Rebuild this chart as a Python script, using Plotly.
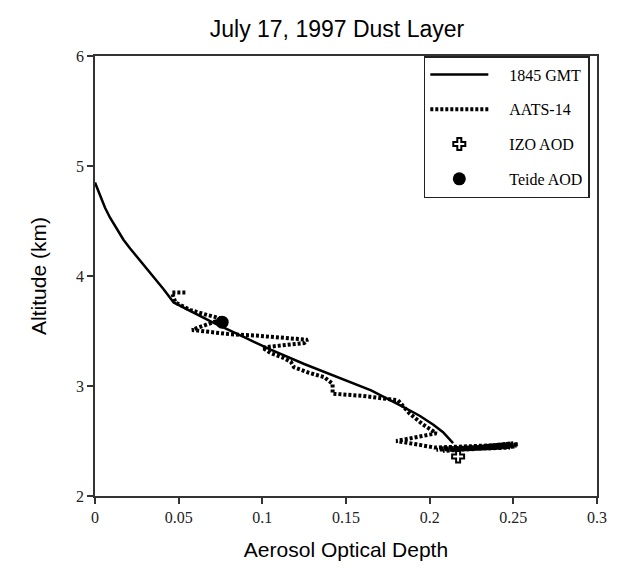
import plotly.graph_objects as go

# 1845 GMT modeled profile
gmt_x = [0.0, 0.003, 0.006, 0.009, 0.013, 0.017, 0.021, 0.026, 0.031, 0.036, 0.041, 0.047,
         0.070, 0.091, 0.105, 0.125, 0.145, 0.165, 0.183, 0.194, 0.202, 0.208, 0.214]
gmt_y = [4.85, 4.73, 4.62, 4.53, 4.43, 4.33, 4.25, 4.16, 4.07, 3.98, 3.88, 3.76,
         3.58, 3.43, 3.33, 3.20, 3.08, 2.96, 2.82, 2.73, 2.65, 2.58, 2.48]

# AATS-14 profile
aats_x = [0.054, 0.046, 0.048, 0.057, 0.066, 0.076, 0.058, 0.070, 0.081, 0.095, 0.110, 0.127,
          0.125, 0.112, 0.100, 0.105, 0.112, 0.117, 0.119, 0.128, 0.137, 0.142, 0.142, 0.160,
          0.181, 0.188, 0.196, 0.204, 0.180, 0.192, 0.203, 0.253, 0.204, 0.252, 0.206, 0.251,
          0.208, 0.250, 0.212, 0.248]
aats_y = [3.85, 3.85, 3.76, 3.69, 3.65, 3.61, 3.51, 3.49, 3.47, 3.46, 3.44, 3.42,
          3.39, 3.37, 3.35, 3.30, 3.26, 3.22, 3.17, 3.12, 3.08, 3.02, 2.93, 2.91,
          2.87, 2.75, 2.65, 2.57, 2.50, 2.47, 2.44, 2.47, 2.42, 2.46, 2.43, 2.45,
          2.41, 2.48, 2.42, 2.44]

izo_x = [0.217]
izo_y = [2.36]
teide_x = [0.076]
teide_y = [3.58]

series_names = ["1845 GMT", "AATS-14", "IZO AOD", "Teide AOD"]

x_ticks = [0, 0.05, 0.1, 0.15, 0.2, 0.25, 0.3]
x_tick_labels = ["0", "0.05", "0.1", "0.15", "0.2", "0.25", "0.3"]
y_ticks = [2, 3, 4, 5, 6]

serif = "Liberation Serif, Times New Roman, serif"
sans = "Liberation Sans, Arial, sans-serif"
pad = "\u2002\u2002"

fig = go.Figure()
fig.add_trace(go.Scatter(x=gmt_x, y=gmt_y, mode="lines", name=pad + series_names[0],
                         line=dict(color="black", width=2.5),
                         legendgroup="a"))
fig.add_trace(go.Scatter(x=aats_x, y=aats_y, mode="lines", name=pad + series_names[1],
                         line=dict(color="black", width=4, dash="3px,2px"),
                         legendgroup="b"))
fig.add_trace(go.Scatter(x=izo_x, y=izo_y, mode="markers", name=pad + series_names[2],
                         marker=dict(symbol="cross-open", size=10, color="black",
                                     line=dict(width=2, color="black")),
                         legendgroup="c"))
fig.add_trace(go.Scatter(x=teide_x, y=teide_y, mode="markers", name=pad + series_names[3],
                         marker=dict(symbol="circle", size=13, color="black"),
                         legendgroup="d"))

axis_common = dict(showline=True, linecolor="#333", linewidth=1.5, mirror=True,
                   ticks="outside", ticklen=6, tickcolor="#333", tickwidth=1.5,
                   showgrid=False, zeroline=False,
                   tickfont=dict(family=serif, size=16, color="#222"))

fig.update_xaxes(range=[0, 0.3], tickvals=x_ticks, ticktext=x_tick_labels,
                 title=dict(text="Aerosol Optical Depth", font=dict(family=sans, size=21, color="black"),
                            standoff=17),
                 **axis_common)
fig.update_yaxes(range=[2, 6], tickvals=y_ticks,
                 title=dict(text="Altitude (km)", font=dict(family=sans, size=21, color="black"),
                            standoff=24),
                 **axis_common)

fig.update_layout(
    width=628, height=573,
    margin=dict(l=95, r=31, t=56, b=77),
    paper_bgcolor="white", plot_bgcolor="white",
    title=dict(text="July 17, 1997 Dust Layer", x=0.482, xref="paper", xanchor="center",
               y=0.95, yanchor="middle", font=dict(family=sans, size=23, color="black")),
    legend=dict(x=0.655, y=1.0, xanchor="left", yanchor="top",
                bgcolor="white", bordercolor="#222", borderwidth=1.5,
                font=dict(family=serif, size=16, color="black"),
                itemwidth=58, tracegroupgap=11, traceorder="grouped"),
)

fig.write_html("out.html")
